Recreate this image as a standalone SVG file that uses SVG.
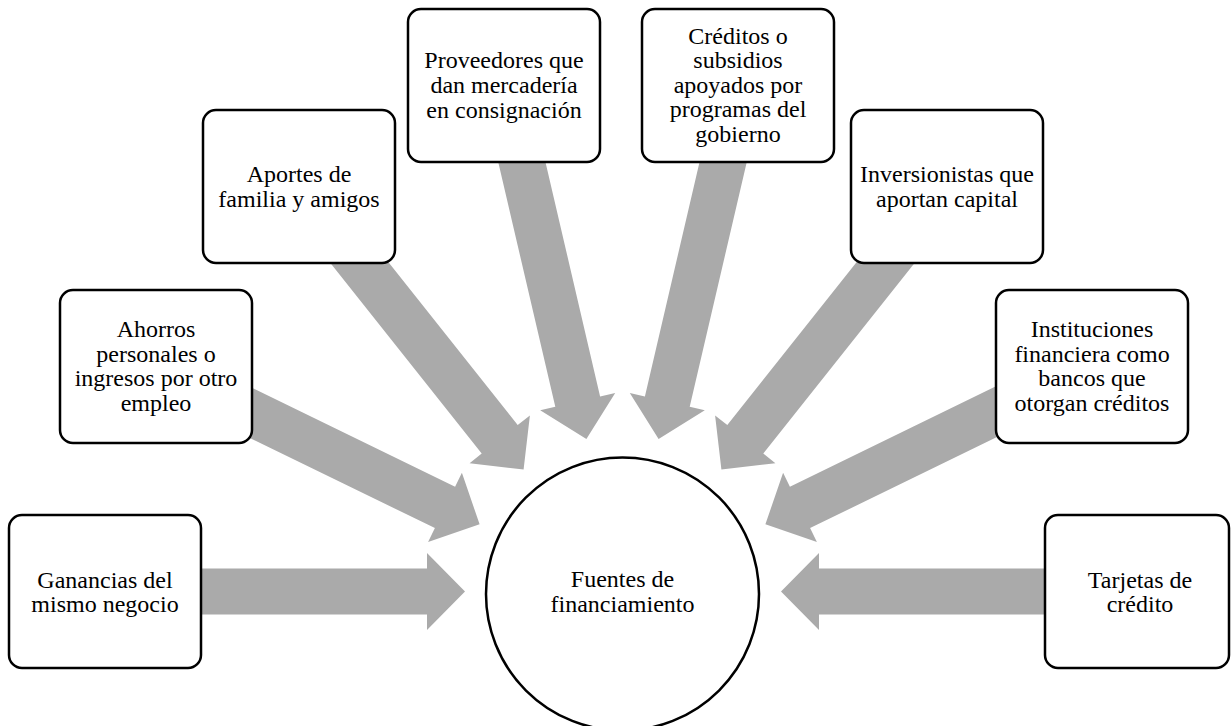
<svg xmlns="http://www.w3.org/2000/svg" width="1231" height="726" viewBox="0 0 1231 726">
<style>
.arrow{fill:#AAAAAA;stroke:none}
.box{fill:#FFFFFF;stroke:#000000;stroke-width:2.5}
.hub{fill:#FFFFFF;stroke:#000000;stroke-width:2.5}
.lbl{font-family:'Liberation Serif','DejaVu Serif',serif;font-size:24px;fill:#000000;text-anchor:middle}
</style>
<rect x="0" y="0" width="1231" height="726" fill="#FFFFFF"/>
<g id="connectors">
<polygon class="arrow" points="105,568.5 427,568.5 427,553 465,591.5 427,630 427,614.5 105,614.5"/>
<polygon class="arrow" points="166.1,345.8 455.1,486.7 461.9,472.8 479.6,524.3 428.1,542.0 434.9,528.1 145.9,387.2"/>
<polygon class="arrow" points="317.0,172.2 517.7,425.0 529.9,415.4 523.6,469.5 469.6,463.2 481.7,453.6 281.0,200.8"/>
<polygon class="arrow" points="526.4,80.3 600.1,396.4 615.2,392.9 586.4,439.1 540.2,410.3 555.3,406.8 481.6,90.7"/>
<polygon class="arrow" points="718.6,80.3 644.9,396.4 629.8,392.9 658.6,439.1 704.8,410.3 689.7,406.8 763.4,90.7"/>
<polygon class="arrow" points="928.0,172.2 727.3,425.0 715.1,415.4 721.4,469.5 775.4,463.2 763.3,453.6 964.0,200.8"/>
<polygon class="arrow" points="1078.9,345.8 789.9,486.7 783.1,472.8 765.4,524.3 816.9,542.0 810.1,528.1 1099.1,387.2"/>
<polygon class="arrow" points="1140,568.5 819,568.5 819,553 781,591.5 819,630 819,614.5 1140,614.5"/>
</g>
<g id="node-hub">
<circle class="hub" cx="622.5" cy="594" r="136.5"/>
<text class="lbl" font-family="Liberation Serif" x="622.5" y="587">Fuentes de</text>
<text class="lbl" font-family="Liberation Serif" x="622.5" y="611.5">financiamiento</text>
</g>
<g id="node-ganancias">
<rect class="box" x="9" y="515" width="192" height="153" rx="13"/>
<text class="lbl" font-family="Liberation Serif" x="105" y="588">Ganancias del</text>
<text class="lbl" font-family="Liberation Serif" x="105" y="612">mismo negocio</text>
</g>
<g id="node-ahorros">
<rect class="box" x="60" y="290" width="192" height="153" rx="13"/>
<text class="lbl" font-family="Liberation Serif" x="156" y="337">Ahorros</text>
<text class="lbl" font-family="Liberation Serif" x="156" y="361.7">personales o</text>
<text class="lbl" font-family="Liberation Serif" x="156" y="386.4">ingresos por otro</text>
<text class="lbl" font-family="Liberation Serif" x="156" y="411">empleo</text>
</g>
<g id="node-aportes">
<rect class="box" x="203" y="110" width="192" height="153" rx="13"/>
<text class="lbl" font-family="Liberation Serif" x="299" y="182">Aportes de</text>
<text class="lbl" font-family="Liberation Serif" x="299" y="206.7">familia y amigos</text>
</g>
<g id="node-proveedores">
<rect class="box" x="408" y="9" width="192" height="153" rx="13"/>
<text class="lbl" font-family="Liberation Serif" x="504" y="68.3">Proveedores que</text>
<text class="lbl" font-family="Liberation Serif" x="504" y="92.9">dan mercadería</text>
<text class="lbl" font-family="Liberation Serif" x="504" y="117.5">en consignación</text>
</g>
<g id="node-creditos">
<rect class="box" x="642" y="9" width="192" height="153" rx="13"/>
<text class="lbl" font-family="Liberation Serif" x="738" y="43.5">Créditos o</text>
<text class="lbl" font-family="Liberation Serif" x="738" y="68.1">subsidios</text>
<text class="lbl" font-family="Liberation Serif" x="738" y="92.7">apoyados por</text>
<text class="lbl" font-family="Liberation Serif" x="738" y="117.3">programas del</text>
<text class="lbl" font-family="Liberation Serif" x="738" y="141.9">gobierno</text>
</g>
<g id="node-inversionistas">
<rect class="box" x="851" y="110" width="192" height="153" rx="13"/>
<text class="lbl" font-family="Liberation Serif" x="947" y="182">Inversionistas que</text>
<text class="lbl" font-family="Liberation Serif" x="947" y="206.7">aportan capital</text>
</g>
<g id="node-instituciones">
<rect class="box" x="996" y="290" width="192" height="153" rx="13"/>
<text class="lbl" font-family="Liberation Serif" x="1092" y="337">Instituciones</text>
<text class="lbl" font-family="Liberation Serif" x="1092" y="361.7">financiera como</text>
<text class="lbl" font-family="Liberation Serif" x="1092" y="386.4">bancos que</text>
<text class="lbl" font-family="Liberation Serif" x="1092" y="411">otorgan créditos</text>
</g>
<g id="node-tarjetas">
<rect class="box" x="1045" y="515" width="184" height="153" rx="13"/>
<text class="lbl" font-family="Liberation Serif" x="1140" y="588">Tarjetas de</text>
<text class="lbl" font-family="Liberation Serif" x="1140" y="612">crédito</text>
</g>
</svg>
